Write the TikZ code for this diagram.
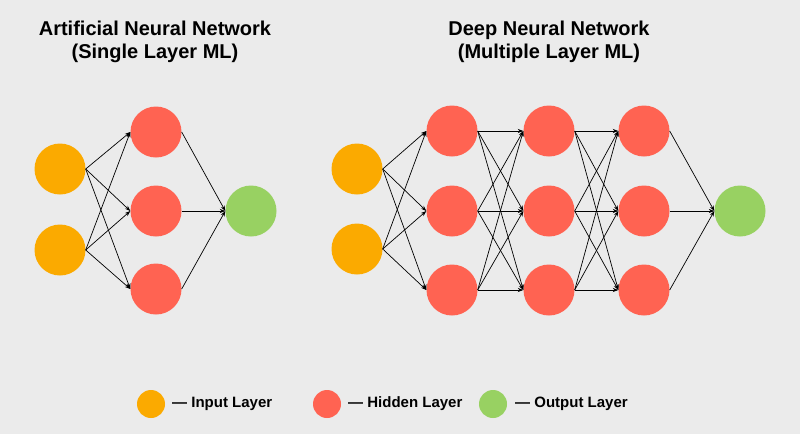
\documentclass[tikz,border=0pt]{standalone}
\usepackage{fontspec}
\setmainfont{Liberation Sans}
\usetikzlibrary{arrows.meta}
\definecolor{paper}{HTML}{EBEBEB}
\definecolor{inorange}{HTML}{FBAA00}
\definecolor{hidred}{HTML}{FF6352}
\definecolor{outgreen}{HTML}{98D162}
\begin{document}
\begin{tikzpicture}[x=1pt,y=-1pt,
    neuron/.style={circle,minimum size=51pt,inner sep=0pt},
    inneuron/.style={neuron,fill=inorange},
    hidneuron/.style={neuron,fill=hidred},
    outneuron/.style={neuron,fill=outgreen},
    link/.style={-{Stealth[length=5.5pt,width=4pt]},line width=0.7pt},
    heading/.style={align=center,font=\bfseries\fontsize{20}{22.5}\selectfont},
    keytext/.style={anchor=west,inner sep=0pt,font=\bfseries\fontsize{15}{17}\selectfont}]
\fill[paper] (0,0) rectangle (800,434);

% single layer
\node[heading] (ann-title) at (155,42) {Artificial Neural Network\\(Single Layer ML)};
\node[inneuron] (ann-i1) at (60,169) {};
\node[inneuron] (ann-i2) at (60,250) {};
\foreach \y [count=\j] in {132,211,289}
    \node[hidneuron] (ann-h\j) at (156,\y) {};
\node[outneuron] (ann-o) at (251,211) {};
\foreach \i in {1,2} {
    \foreach \j in {1,2,3} {
        \draw[link] (ann-i\i.east) -- (ann-h\j.west);
    }
}
\foreach \j in {1,2,3}
    \draw[link] (ann-h\j.east) -- (ann-o.west);

% multiple layers
\node[heading] (dnn-title) at (549,42) {Deep Neural Network\\(Multiple Layer ML)};
\node[inneuron] (dnn-i1) at (357,169) {};
\node[inneuron] (dnn-i2) at (357,249) {};
\foreach \x [count=\c] in {452,549,644} {
    \foreach \y [count=\j] in {131,211,290}
        \node[hidneuron] (dnn-h\c\j) at (\x,\y) {};
}
\node[outneuron] (dnn-o) at (740,211) {};
\foreach \i in {1,2} {
    \foreach \j in {1,2,3} {
        \draw[link] (dnn-i\i.east) -- (dnn-h1\j.west);
    }
}
\foreach \c/\n in {1/2,2/3} {
    \foreach \i in {1,2,3} {
        \foreach \j in {1,2,3} {
            \draw[link] (dnn-h\c\i.east) -- (dnn-h\n\j.west);
        }
    }
}
\foreach \j in {1,2,3}
    \draw[link] (dnn-h3\j.east) -- (dnn-o.west);

% legend
\node[circle,minimum size=28pt,inner sep=0pt,fill=inorange] (key-in) at (151,404) {};
\node[keytext] (key-in-text) at (172,404) {— Input Layer};
\node[circle,minimum size=28pt,inner sep=0pt,fill=hidred] (key-hid) at (327,404) {};
\node[keytext] (key-hid-text) at (348,404) {— Hidden Layer};
\node[circle,minimum size=28pt,inner sep=0pt,fill=outgreen] (key-out) at (493,404) {};
\node[keytext] (key-out-text) at (515,404) {— Output Layer};
\end{tikzpicture}
\end{document}
